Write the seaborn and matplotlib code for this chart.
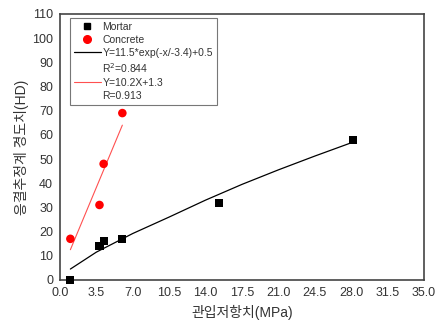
import matplotlib
matplotlib.use('Agg')
import matplotlib.pyplot as plt
import pandas as pd
import seaborn as sns
from matplotlib.lines import Line2D

sns.set_style('white')
plt.rcParams['font.family'] = ['Liberation Sans', 'Noto Sans CJK KR']

# measured data
mortar_x = [1.0, 3.8, 4.2, 6.0, 15.3, 28.2]
mortar_y = [0, 14, 16, 17, 32, 58]
concrete_x = [1.0, 3.8, 4.2, 6.0]
concrete_y = [17, 31, 48, 69]

# fitted curves
mortar_fit_x = [1.0, 3.5, 7.0, 10.5, 14.0, 17.5, 21.0, 24.5, 28.2]
mortar_fit_y = [4.5, 11.5, 19.2, 26.0, 33.0, 39.5, 45.5, 51.2, 57.0]
concrete_fit_x = [1.0, 6.0]
concrete_fit_y = [12.5, 64.0]

xticks = [0.0, 3.5, 7.0, 10.5, 14.0, 17.5, 21.0, 24.5, 28.0, 31.5, 35.0]
yticks = list(range(0, 111, 10))

text_color = '#333333'

fig = plt.figure(figsize=(4.41, 3.24), dpi=100)
ax = fig.add_axes([0.136, 0.136, 0.825, 0.821])

sns.lineplot(x=mortar_fit_x, y=mortar_fit_y, color='black', lw=0.9, ax=ax)
sns.lineplot(x=concrete_fit_x, y=concrete_fit_y, color='#ff5050', lw=0.8, ax=ax)
sns.scatterplot(x=mortar_x, y=mortar_y, marker='s', color='black', s=34,
                edgecolor='none', ax=ax, clip_on=False, zorder=5)
sns.scatterplot(x=concrete_x, y=concrete_y, marker='o', color='red', s=38,
                edgecolor='none', ax=ax, clip_on=False, zorder=5)

ax.set_xlim(0, 35)
ax.set_ylim(0, 110)
ax.set_xticks(xticks)
ax.set_xticklabels(['{:.1f}'.format(t) for t in xticks])
ax.set_yticks(yticks)
ax.tick_params(direction='in', length=4, width=0.8, labelsize=9, colors=text_color,
               labelcolor=text_color, pad=5)
for sp in ax.spines.values():
    sp.set_color('#444444')
    sp.set_linewidth(1.2)

ax.set_xlabel('관입저항치(MPa)', fontsize=10, color=text_color, labelpad=4)
ax.set_ylabel('응결추정계 경도치(HD)', fontsize=10, color=text_color, labelpad=2)

handles = [
    Line2D([], [], ls='none', marker='s', color='black', ms=5),
    Line2D([], [], ls='none', marker='o', color='red', ms=5.5),
    Line2D([], [], color='black', lw=0.9),
    Line2D([], [], ls='none'),
    Line2D([], [], color='#ff5050', lw=0.8),
    Line2D([], [], ls='none'),
]
labels = ['Mortar', 'Concrete', 'Y=11.5*exp(-x/-3.4)+0.5', 'R$^2$=0.844',
          'Y=10.2X+1.3', 'R=0.913']
leg = ax.legend(handles, labels, loc='upper left', bbox_to_anchor=(0.028, 0.985),
                borderaxespad=0, fontsize=7.5, frameon=True, fancybox=False,
                handlelength=2.6, handletextpad=0.15, labelspacing=0.3,
                borderpad=0.35, labelcolor=text_color)
leg.get_frame().set_edgecolor('#555555')
leg.get_frame().set_linewidth(0.8)

fig.savefig('out.png', dpi=100)
